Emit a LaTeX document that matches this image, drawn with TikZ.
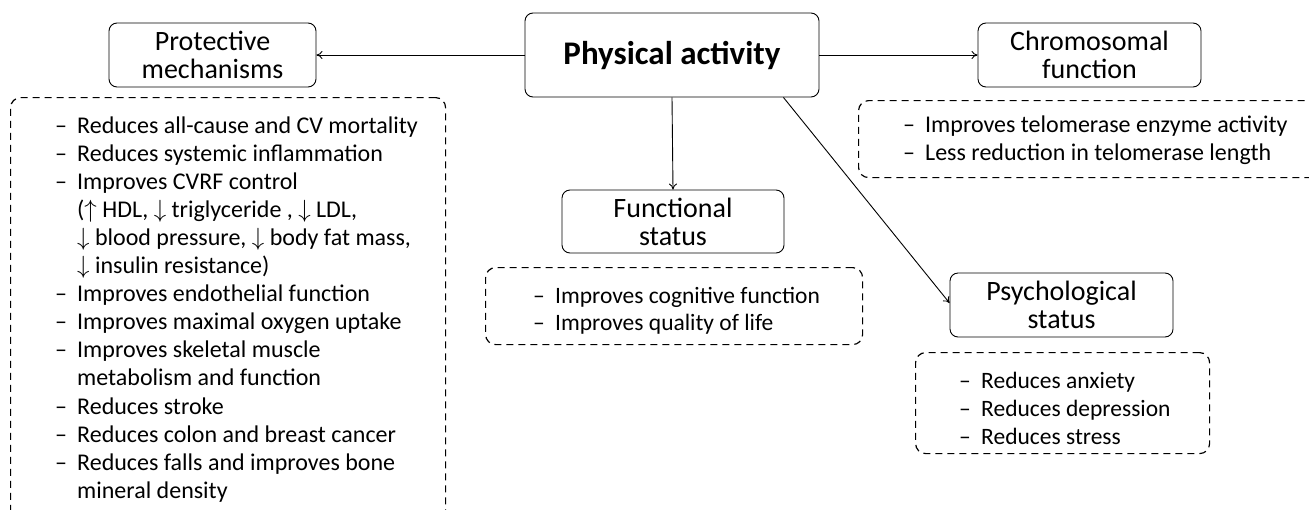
\documentclass[tikz,border=0pt]{standalone}
\usepackage{fontspec}
\setmainfont{Carlito}
\usetikzlibrary{arrows.meta,calc}
\newcommand{\itm}{\makebox[22pt][l]{–}}
\newcommand{\upar}{\smash{$\uparrow$}}
\newcommand{\dnar}{\smash{$\downarrow$}}
\begin{document}
\begin{tikzpicture}[x=1pt,y=-1pt,
  box/.style={draw, rounded corners=8pt, line width=0.9pt, align=center, inner sep=0pt,
    font=\fontsize{28}{28}\selectfont},
  dbox/.style={draw, dash pattern=on 7pt off 5pt, rounded corners=10pt, line width=1.2pt,
    inner sep=0pt, anchor=north west},
  listtext/.style={anchor=base west, inner sep=0pt},
  arr/.style={-{To[length=6pt,width=8pt]}, line width=0.9pt}]
\useasboundingbox (0,0) rectangle (1309,509);

% main boxes
\node[box, minimum width=294pt, minimum height=84pt, font=\bfseries\fontsize{33}{36}\selectfont] (pa) at (672,55) {Physical activity};
\node[box, minimum width=207pt, minimum height=64pt] (prot) at (212.5,55) {Protective\\mechanisms};
\node[box, minimum width=223pt, minimum height=64pt] (chrom) at (1089.5,55) {Chromosomal\\function};
\node[box, minimum width=222pt, minimum height=63pt] (func) at (673,221.5) {Functional\\status};
\node[box, minimum width=223pt, minimum height=64pt] (psy) at (1061.5,305) {Psychological\\status};

% dashed boxes
\node[dbox, minimum width=435pt, minimum height=440pt] (protbox) at (10,97) {};
\node[dbox, minimum width=480pt, minimum height=77pt] (chrombox) at (858,100) {};
\node[dbox, minimum width=377pt, minimum height=77pt] (funcbox) at (485,267) {};
\node[dbox, minimum width=294pt, minimum height=101pt] (psybox) at (915,352) {};

% lists
\node[listtext, font=\fontsize{24}{28.1}\selectfont] (protlist) at (55,133) {\begin{tabular}[t]{@{}l@{}}
\itm Reduces all-cause and CV mortality\\
\itm Reduces systemic inflammation\\
\itm Improves CVRF control\\
\hspace{22pt}(\upar{} HDL, \dnar{} triglyceride , \dnar{} LDL,\\
\hspace{22pt}\dnar{} blood pressure, \dnar{} body fat mass,\\
\hspace{22pt}\dnar{} insulin resistance)\\
\itm Improves endothelial function\\
\itm Improves maximal oxygen uptake\\
\itm Improves skeletal muscle\\
\hspace{22pt}metabolism and function\\
\itm Reduces stroke\\
\itm Reduces colon and breast cancer\\
\itm Reduces falls and improves bone\\
\hspace{22pt}mineral density
\end{tabular}};

\node[listtext, font=\fontsize{24}{28}\selectfont] (chromlist) at (903,132) {\begin{tabular}[t]{@{}l@{}}
\itm Improves telomerase enzyme activity\\
\itm Less reduction in telomerase length
\end{tabular}};

\node[listtext, font=\fontsize{23.5}{27}\selectfont] (funclist) at (533,303) {\begin{tabular}[t]{@{}l@{}}
\itm Improves cognitive function\\
\itm Improves quality of life
\end{tabular}};

\node[listtext, font=\fontsize{23.5}{28}\selectfont] (psylist) at (959,388) {\begin{tabular}[t]{@{}l@{}}
\itm Reduces anxiety\\
\itm Reduces depression\\
\itm Reduces stress
\end{tabular}};

% arrows
\draw[arr] (pa.west) -- (prot.east);
\draw[arr] (pa.east) -- (chrom.west);
\draw[arr] (pa.south) -- (func.north);
\coordinate (pase) at ($(pa.south east)+(-36,0)$);
\coordinate (psyw) at ($(psy.west)+(0,-2)$);
\draw[arr] (pase) -- (psyw);
\end{tikzpicture}
\end{document}
